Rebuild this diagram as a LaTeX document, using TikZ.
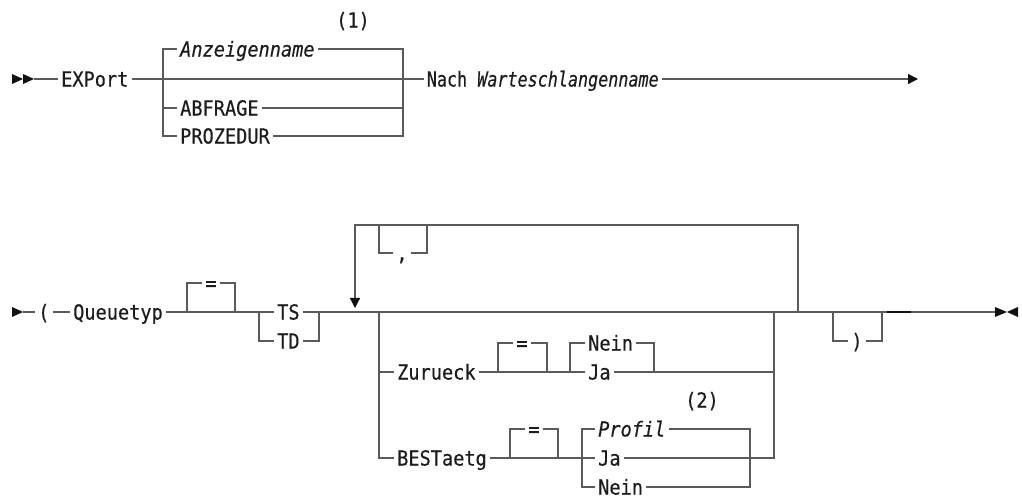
\documentclass[tikz,border=0pt]{standalone}
\usepackage{fontspec}
\setmonofont{DejaVu Sans Mono}[FakeStretch=0.9, FakeBold=0.4]
\usetikzlibrary{arrows.meta,positioning,calc}
\definecolor{sdLine}{HTML}{5A5A5A}
\definecolor{sdText}{HTML}{1C1C1C}
\definecolor{sdMark}{HTML}{111111}

\begin{document}
\begin{tikzpicture}[x=0.75pt,y=-0.75pt,
    kw/.style={anchor=west, inner xsep=2.2pt, inner ysep=0pt, text height=11.3pt,
      text depth=0pt, text=sdText, font=\ttfamily\fontsize{15.5}{18}\selectfont},
    var/.style={kw, font=\ttfamily\itshape\fontsize{15.5}{18}\selectfont},
    sym/.style={kw, anchor=center},
    fnote/.style={sym},
    rail/.style={draw=sdLine, line width=1pt},
    tipfill/.style={fill=sdMark, draw=none},
    railtip/.style={rail, -{Triangle[length=7.5pt,width=7.5pt,color=sdMark]}}]
  \useasboundingbox (0,0) rectangle (1022,498);

  % first line
  \foreach \x in {12,23}
    \fill[tipfill] (\x,74) -- (\x+11,79) -- (\x,84) -- cycle;
  \coordinate (r1s) at (34,79);
  \node[kw] (export) at (58,79) {EXPort};
  \coordinate (b1l) at (163,79);
  \coordinate (b1r) at (403,79);
  \node[var] (anz) at (177,49) {Anzeigenname};
  \node[kw] (abf) at (177,108) {ABFRAGE};
  \node[kw] (proz) at (177,136) {PROZEDUR};
  \node[fnote] (n1) at (353,20) {(1)};
  \node[kw, xscale=0.9, transform shape] (nach) at (424,79) {Nach \textit{Warteschlangenname}};
  \coordinate (r1e) at (918,79);

  \draw[rail] (r1s) -- (export.west);
  \draw[rail] (export.east) -- (nach.west);
  \draw[rail] (anz.west) -- (b1l |- anz) -- (b1l |- proz) -- (proz.west);
  \draw[rail] (abf.west) -- (b1l |- abf);
  \draw[rail] (anz.east) -- (b1r |- anz) -- (b1r |- proz) -- (proz.east);
  \draw[rail] (abf.east) -- (b1r |- abf);
  \draw[railtip] (nach.east) -- (r1e);

  % second line
  \fill[tipfill] (12,307) -- (23,312) -- (12,317) -- cycle;
  \coordinate (r2s) at (23,312);
  \node[kw] (lpar) at (35,312) {(};
  \node[kw] (qtyp) at (70,312) {Queuetyp};
  \coordinate (q1l) at (187,312);
  \coordinate (q1r) at (235,312);
  \node[sym] (eq1) at (211,283) {=};
  \coordinate (t1l) at (259,312);
  \coordinate (t1r) at (319,312);
  \node[kw] (ts) at (274,312) {TS};
  \node[kw] (td) at (274,341) {TD};

  \draw[rail] (r2s) -- (lpar.west);
  \draw[rail] (lpar.east) -- (qtyp.west);
  \draw[rail] (qtyp.east) -- (ts.west);
  \draw[rail] (q1l) |- (eq1.west);
  \draw[rail] (eq1.east) -| (q1r);
  \draw[rail] (t1l) |- (td.west);
  \draw[rail] (td.east) -| (t1r);

  % repeat loop with separator
  \coordinate (lpr) at (798,312);
  \coordinate (lptop) at (355,225);
  \coordinate (lpl) at (355,308);
  \coordinate (cml) at (379,225);
  \coordinate (cmr) at (427,225);
  \node[sym] (comma) at (402,253) {,};
  \draw[railtip] (lpr) |- (lptop) -- (lpl);
  \draw[rail] (cml) |- (comma.west);
  \draw[rail] (comma.east) -| (cmr);

  % choice of options
  \coordinate (chl) at (379,312);
  \coordinate (chr) at (774,312);
  \node[kw] (zur) at (394,372) {Zurueck};
  \coordinate (e2l) at (498,372);
  \coordinate (e2r) at (547,372);
  \node[sym] (eq2) at (522,343) {=};
  \coordinate (nj1l) at (570,372);
  \coordinate (nj1r) at (654,372);
  \node[kw] (zne) at (585,343) {Nein};
  \node[kw] (zja) at (585,372) {Ja};

  \node[kw] (best) at (394,458) {BESTaetg};
  \coordinate (e3l) at (510,458);
  \coordinate (e3r) at (558,458);
  \node[sym] (eq3) at (534,429) {=};
  \coordinate (pbl) at (582,458);
  \coordinate (pbr) at (750,458);
  \node[var] (prof) at (595,429) {Profil};
  \node[kw] (bja) at (595,458) {Ja};
  \node[kw] (bne) at (595,487) {Nein};
  \node[fnote] (n2) at (702,400) {(2)};

  \draw[rail] (chl) |- (best.west);
  \draw[rail] (chl |- zur) -- (zur.west);
  \draw[rail] (zur.east) -- (zja.west);
  \draw[rail] (e2l) |- (eq2.west);
  \draw[rail] (eq2.east) -| (e2r);
  \draw[rail] (nj1l) |- (zne.west);
  \draw[rail] (zne.east) -| (nj1r);
  \draw[rail] (zja.east) -- (chr |- zja);

  \draw[rail] (best.east) -- (bja.west);
  \draw[rail] (e3l) |- (eq3.west);
  \draw[rail] (eq3.east) -| (e3r);
  \draw[rail] (prof.west) -- (pbl |- prof) -- (pbl |- bne) -- (bne.west);
  \draw[rail] (prof.east) -- (pbr |- prof) -- (pbr |- bne) -- (bne.east);
  \draw[rail] (bja.east) -| (chr);

  % closing bracket and end
  \coordinate (rpl) at (833,312);
  \coordinate (rpr) at (882,312);
  \node[sym] (rpar) at (857,341) {)};
  \coordinate (thk1) at (887,312);
  \coordinate (thk2) at (911,312);
  \coordinate (r2e) at (995,312);
  \draw[rail] (rpl) |- (rpar.west);
  \draw[rail] (rpar.east) -| (rpr);
  \draw[rail] (ts.east) -- (thk1);
  \draw[line width=1.6pt, sdMark] (thk1) -- (thk2);
  \draw[rail] (thk2) -- (r2e);
  \fill[tipfill] (995,307) -- (1007,312) -- (995,317) -- cycle;
  \fill[tipfill] (1018,307) -- (1007,312) -- (1018,317) -- cycle;
\end{tikzpicture}
\end{document}
